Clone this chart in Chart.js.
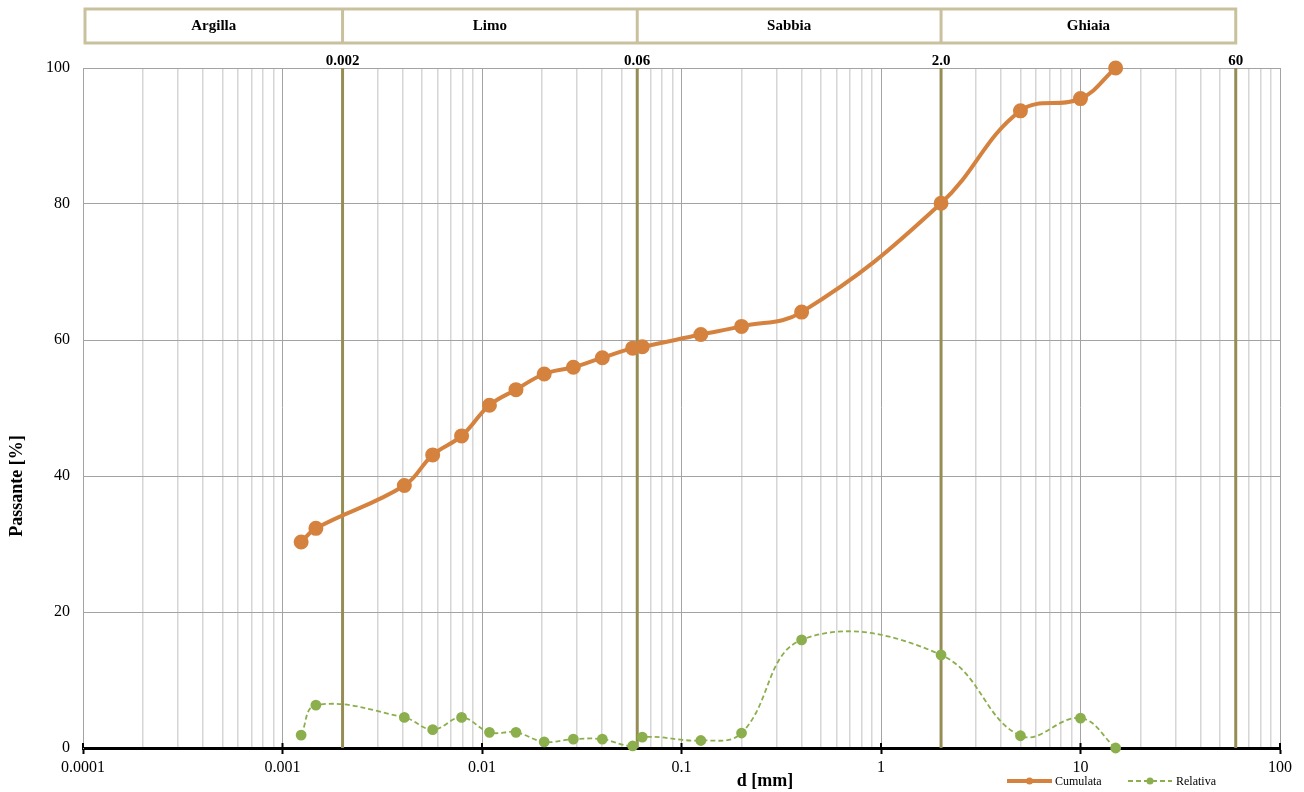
<!DOCTYPE html>
<html lang="it">
<head>
  <meta charset="UTF-8" />
  <title>Curva granulometrica</title>
  <script src="https://cdn.jsdelivr.net/npm/chart.js"></script>
  <style>
    html, body { margin: 0; padding: 0; background: #fff; }
    #wrap { width: 1304px; height: 792px; }
  </style>
</head>
<body>
<div id="wrap"><canvas id="granChart" width="1304" height="792"></canvas></div>

<script>
  // diametri [mm] e percentuali
  const sizes = [0.00124, 0.00147, 0.00408, 0.00566, 0.0079, 0.0109, 0.0148, 0.0205, 0.0287, 0.0401, 0.0569, 0.0636, 0.125, 0.2, 0.4, 2, 5, 10, 15];
  const cumulata = [30.3, 32.3, 38.6, 43.1, 45.9, 50.4, 52.7, 55.0, 56.0, 57.4, 58.8, 59.0, 60.8, 62.0, 64.1, 80.1, 93.7, 95.5, 100];
  const relativa = [1.9, 6.3, 4.5, 2.7, 4.5, 2.3, 2.3, 0.9, 1.3, 1.3, 0.3, 1.6, 1.1, 2.2, 15.9, 13.7, 1.8, 4.4, 0];

  // limiti delle classi granulometriche
  const limits = [0.002, 0.06, 2, 60];
  const limitLabels = ['0.002', '0.06', '2.0', '60'];
  const classes = ['Argilla', 'Limo', 'Sabbia', 'Ghiaia'];

  const decades = [0.0001, 0.001, 0.01, 0.1, 1, 10, 100];
  const yTicks = [0, 20, 40, 60, 80, 100];

  const ORANGE = '#D5823F';
  const GREEN = '#8CAF4E';
  const OLIVE = '#968D55';
  const TAN = '#C9C19E';
  const FONT = "'Liberation Serif', 'Times New Roman', serif";

  // griglia verticale: 1..9 per decade
  const xGrid = [];
  decades.forEach((d, i) => {
    if (i === decades.length - 1) { xGrid.push(d); return; }
    for (let k = 1; k <= 9; k++) xGrid.push(k === 1 ? d : d * k);
  });

  const toXY = (ys) => sizes.map((s, i) => ({ x: s, y: ys[i] }));

  const limitSets = limits.map(v => ({
    label: 'lim' + v,
    data: [{ x: v, y: 0 }, { x: v, y: 100 }],
    borderColor: OLIVE,
    borderWidth: 3,
    pointRadius: 0,
    order: 5
  }));

  // header con le classi, etichette dei limiti, titoli e legenda
  const decorPlugin = {
    id: 'decor',
    afterDraw(chart) {
      const ctx = chart.ctx;
      const xs = chart.scales.x;
      const area = chart.chartArea;
      const edges = [area.left + 2].concat(limits.map(v => xs.getPixelForValue(v)));
      const top = 9, bottom = 43;

      ctx.save();
      ctx.strokeStyle = TAN;
      ctx.lineWidth = 3;
      ctx.strokeRect(edges[0], top, edges[edges.length - 1] - edges[0], bottom - top);
      for (let i = 1; i < edges.length - 1; i++) {
        ctx.beginPath();
        ctx.moveTo(edges[i], top);
        ctx.lineTo(edges[i], bottom);
        ctx.stroke();
      }
      ctx.fillStyle = '#000';
      ctx.font = 'bold 15px ' + FONT;
      ctx.textAlign = 'center';
      ctx.textBaseline = 'middle';
      classes.forEach((c, i) => {
        ctx.fillText(c, (edges[i] + edges[i + 1]) / 2, 26);
      });

      ctx.textBaseline = 'alphabetic';
      limits.forEach((v, i) => {
        ctx.fillText(limitLabels[i], xs.getPixelForValue(v), 65);
      });

      // piccoli tick sopra l'asse x
      ctx.strokeStyle = '#000';
      ctx.lineWidth = 2;
      decades.forEach(d => {
        const px = xs.getPixelForValue(d);
        ctx.beginPath();
        ctx.moveTo(px, area.bottom);
        ctx.lineTo(px, area.bottom - 5);
        ctx.stroke();
      });

      // titoli assi
      ctx.font = 'bold 18px ' + FONT;
      ctx.textBaseline = 'middle';
      ctx.fillText('d [mm]', 765, 781);
      ctx.save();
      ctx.translate(17, 486);
      ctx.rotate(-Math.PI / 2);
      ctx.fillText('Passante [%]', 0, 0);
      ctx.restore();

      // legenda
      const items = [
        { ds: chart.data.datasets[0], x0: 1007, x1: 1052, tx: 1055, r: 3.5 },
        { ds: chart.data.datasets[1], x0: 1128, x1: 1172, tx: 1176, r: 3.5 }
      ];
      const ly = 781;
      ctx.font = '12px ' + FONT;
      ctx.textAlign = 'left';
      items.forEach(it => {
        ctx.strokeStyle = it.ds.borderColor;
        ctx.lineWidth = it.ds.borderWidth;
        ctx.setLineDash(it.ds.borderDash || []);
        ctx.beginPath();
        ctx.moveTo(it.x0, ly);
        ctx.lineTo(it.x1, ly);
        ctx.stroke();
        ctx.setLineDash([]);
        ctx.fillStyle = it.ds.pointBackgroundColor;
        ctx.beginPath();
        ctx.arc((it.x0 + it.x1) / 2, ly, it.r, 0, Math.PI * 2);
        ctx.fill();
        ctx.fillStyle = '#000';
        ctx.fillText(it.ds.label, it.tx, ly + 1);
      });
      ctx.restore();
    }
  };

  new Chart(document.getElementById('granChart'), {
    type: 'line',
    data: {
      datasets: [
        {
          label: 'Cumulata',
          data: toXY(cumulata),
          borderColor: ORANGE,
          backgroundColor: ORANGE,
          pointBackgroundColor: ORANGE,
          pointBorderColor: ORANGE,
          borderWidth: 4,
          pointRadius: 5.5,
          tension: 0.4,
          clip: false,
          order: 0
        },
        {
          label: 'Relativa',
          data: toXY(relativa),
          borderColor: GREEN,
          backgroundColor: GREEN,
          pointBackgroundColor: GREEN,
          pointBorderColor: GREEN,
          borderWidth: 1.8,
          borderDash: [5, 3],
          pointRadius: 4.5,
          tension: 0.4,
          clip: false,
          order: 1
        }
      ].concat(limitSets)
    },
    options: {
      responsive: false,
      devicePixelRatio: 1,
      animation: false,
      layout: { padding: { left: 0, top: 68, right: 24, bottom: 0 } },
      plugins: {
        legend: { display: false },
        tooltip: { enabled: false }
      },
      scales: {
        x: {
          type: 'logarithmic',
          min: 0.0001,
          max: 100,
          afterBuildTicks: (s) => { s.ticks = xGrid.map(v => ({ value: v })); },
          afterFit: (s) => { s.height = 44; },
          border: { color: '#000', width: 3 },
          grid: {
            color: (c) => decades.includes(c.tick.value) ? '#A3A3A3' : '#D6D6D6',
            lineWidth: (c) => decades.includes(c.tick.value) ? 1 : 1.5,
            tickColor: (c) => decades.includes(c.tick.value) ? '#000' : 'rgba(0,0,0,0)',
            tickLength: 6,
            tickWidth: 2
          },
          ticks: {
            autoSkip: false,
            maxRotation: 0,
            padding: 4,
            color: '#000',
            font: { family: FONT, size: 16 },
            callback: (v) => decades.includes(v) ? String(v) : ''
          }
        },
        y: {
          type: 'linear',
          min: 0,
          max: 100,
          afterBuildTicks: (s) => { s.ticks = yTicks.map(v => ({ value: v })); },
          afterFit: (s) => { s.width = 83; },
          border: { color: '#A3A3A3', width: 1 },
          grid: { color: '#A3A3A3', lineWidth: 1, drawTicks: false },
          ticks: {
            padding: 13,
            color: '#000',
            font: { family: FONT, size: 16 }
          }
        }
      }
    },
    plugins: [decorPlugin]
  });
</script>
</body>
</html>
